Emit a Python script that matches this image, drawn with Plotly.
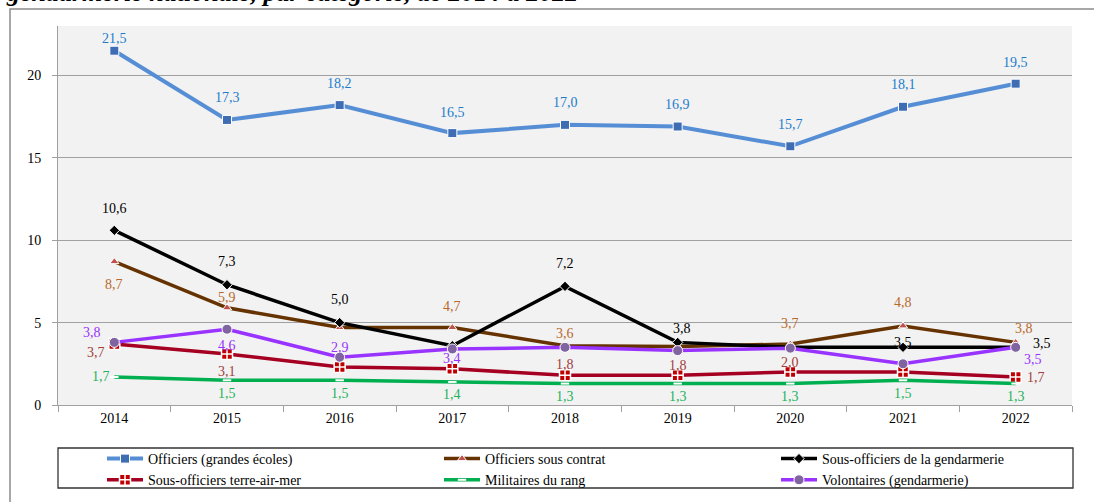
import plotly.graph_objects as go

years = ["2014", "2015", "2016", "2017", "2018", "2019", "2020", "2021", "2022"]

off_ge = [21.5, 17.3, 18.2, 16.5, 17.0, 16.9, 15.7, 18.1, 19.5]
off_sc = [8.7, 5.9, 4.7, 4.7, 3.6, 3.55, 3.7, 4.8, 3.8]
so_gend = [10.6, 7.3, 5.0, 3.6, 7.2, 3.8, 3.5, 3.5, 3.5]
so_tam = [3.7, 3.1, 2.3, 2.2, 1.8, 1.8, 2.0, 2.0, 1.7]
mdr = [1.7, 1.5, 1.5, 1.4, 1.3, 1.3, 1.3, 1.5, 1.3]
volont = [3.8, 4.6, 2.9, 3.4, 3.5, 3.3, 3.45, 2.5, 3.5]

names = ["Officiers (grandes écoles)", "Officiers sous contrat", "Sous-officiers de la gendarmerie",
         "Sous-officiers terre-air-mer", "Militaires du rang", "Volontaires (gendarmerie)"]

title_text = "gendarmerie nationale, par catégorie, de 2014 à 2022"

# ---- layout geometry (pixels) ----
W, H = 1094, 502
L, R, T, B = 58, 1072, 26, 405
YMAX = 23


def xp(px):
    return (px - L) / (R - L)


def yp(py):
    return (B - py) / (B - T)


FONT = "Liberation Serif"

styles = [
    dict(line="#558ED5", marker=dict(symbol="square", size=9, color="#3F6DB3", line=dict(color="white", width=1)), label="#1C7CCB", lw=4),
    dict(line="#663300", marker=dict(symbol="triangle-up", size=8, color="#C0504D", line=dict(color="white", width=1)), label="#B8692A", lw=3.5),
    dict(line="#000000", marker=dict(symbol="diamond", size=8, color="#000000", line=dict(color="white", width=1)), label="#000000", lw=3.5),
    dict(line="#A50021", marker=dict(symbol="square-cross", size=11, color="#C00000", line=dict(color="white", width=1.5)), label="#A0403C", lw=3.5),
    dict(line="#00B050", marker=dict(symbol="line-ew", size=6, color="white", line=dict(color="white", width=2)), label="#1DB35A", lw=3.5),
    dict(line="#9933FF", marker=dict(symbol="circle", size=10, color="#8064A2", line=dict(color="white", width=1)), label="#9933FF", lw=3.5),
]

series = [off_ge, off_sc, so_gend, so_tam, mdr, volont]

# label offsets in pixels (dx, dy; dy positive = downward); None = no label
offsets = [
    [(0, -12), (0, -22), (0, -22), (0, -21), (0, -22), (0, -22), (0, -22), (0, -22), (0, -21)],
    [(0, 23), (0, -10), None, (0, -21), (0, -12), None, (0, -21), (0, -23), (8, -14)],
    [(0, -22), (0, -23), (0, -23), None, (0, -23), (4, -14), None, (0, -5), (26, -4)],
    [(-18, 8), (0, 18), None, None, (0, -11), (0, -10), (0, -10), None, (20, 1)],
    [(-13, 0), (0, 13), (0, 13), (0, 13), (0, 13), (0, 13), (0, 13), (0, 13), (0, 13)],
    [(-22, -10), (0, 16), (0, -10), (0, 10), None, None, None, None, (17, 12)],
]

fig = go.Figure()
for name, vals, st in zip(names, series, styles):
    fig.add_trace(go.Scatter(
        x=years, y=vals, name=name, mode="lines+markers",
        line=dict(color=st["line"], width=st["lw"]),
        marker=st["marker"],
    ))

annotations = []
for vals, st, offs in zip(series, styles, offsets):
    for i, (v, o) in enumerate(zip(vals, offs)):
        if o is None:
            continue
        annotations.append(dict(
            x=i, y=v, xref="x", yref="y", text=f"{v:.1f}".replace(".", ","),
            showarrow=False, xshift=o[0], yshift=-o[1],
            font=dict(family=FONT, size=14, color=st["label"]),
        ))

# partially visible title at top
annotations.append(dict(
    x=xp(4), y=yp(9), xref="paper", yref="paper", xanchor="left", yanchor="bottom",
    text="<b><i>" + title_text + "</i></b>", showarrow=False,
    font=dict(family=FONT, size=26, color="black"),
))

shapes = [
    # outer frame (top and left visible)
    dict(type="rect", xref="paper", yref="paper", x0=xp(10), x1=xp(1110), y0=yp(9), y1=yp(520),
         line=dict(color="#8C8C8C", width=1.5), fillcolor="rgba(0,0,0,0)", layer="below"),
    # legend box
    dict(type="rect", xref="paper", yref="paper", x0=xp(58), x1=xp(1073), y0=yp(448), y1=yp(488),
         line=dict(color="#333333", width=1.3), fillcolor="rgba(0,0,0,0)"),
]

fig.update_layout(
    width=W, height=H,
    margin=dict(l=L, r=W - R, t=T, b=H - B, autoexpand=False),
    paper_bgcolor="white", plot_bgcolor="#F2F2F2",
    font=dict(family=FONT, size=14, color="black"),
    showlegend=True,
    legend=dict(orientation="h", x=xp(102), xanchor="left", y=yp(443), yanchor="top",
                entrywidth=286, entrywidthmode="pixels", itemwidth=36,
                bgcolor="rgba(0,0,0,0)", borderwidth=0, font=dict(family=FONT, size=14),
                tracegroupgap=0, traceorder="normal"),
    annotations=annotations,
    shapes=shapes,
)
fig.update_xaxes(type="category", range=[-0.5, len(years) - 0.5], showgrid=False, showline=True,
                 linecolor="#A0A0A0", linewidth=1,
                 ticks="outside", tickson="boundaries", ticklen=6, tickcolor="#A0A0A0",
                 tickfont=dict(family=FONT, size=14), zeroline=False)
fig.update_yaxes(range=[0, YMAX], dtick=5, tick0=0, showgrid=True, gridcolor="#A0A0A0", gridwidth=1,
                 showline=True, linecolor="#A0A0A0", linewidth=1, ticks="outside", ticklen=5,
                 tickcolor="#A0A0A0", tickfont=dict(family=FONT, size=14), zeroline=False,
                 ticklabelstandoff=8)

fig.write_html("out.html", config={"displayModeBar": False},
               post_script="document.body.style.margin='0';")
